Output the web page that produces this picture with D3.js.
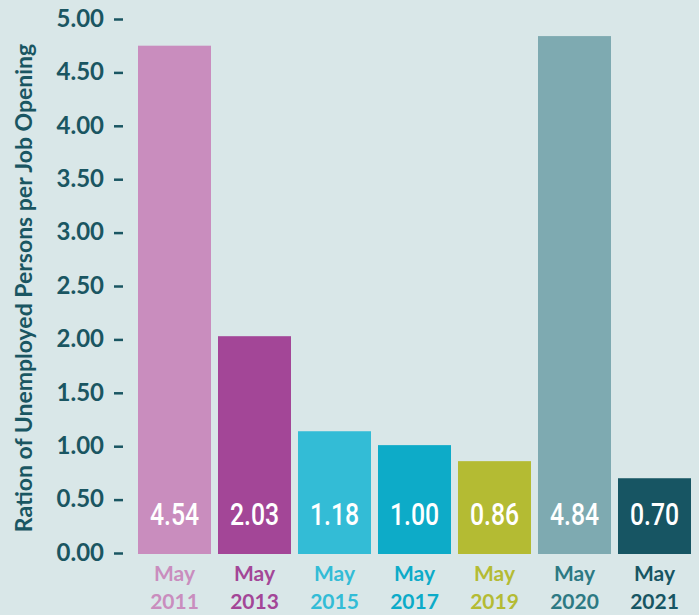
<!DOCTYPE html>
<html>
<head>
<meta charset="utf-8">
<script src="https://cdn.jsdelivr.net/npm/d3@7"></script>
<style>
  body { margin: 0; background: #d9e7e8; }
  svg { display: block; }
</style>
</head>
<body>
<div id="container"></div>
<script>
/**
 * DATA
 * */
const months = ["May", "May", "May", "May", "May", "May", "May"];
const years = ["2011", "2013", "2015", "2017", "2019", "2020", "2021"];
// bar heights as drawn in the picture
const values = [4.75, 2.03, 1.14, 1.01, 0.86, 4.84, 0.70];
// numbers printed on the bars
const valueLabels = ["4.54", "2.03", "1.18", "1.00", "0.86", "4.84", "0.70"];
const barColors = ["#c98dbe", "#a34697", "#33bcd6", "#0dabc8", "#b4bb33", "#7eaab1", "#175563"];
const labelColors = ["#c98dbe", "#a34697", "#33bcd6", "#0dabc8", "#b4bb33", "#2d7983", "#175563"];
const yTicks = [0, 0.5, 1, 1.5, 2, 2.5, 3, 3.5, 4, 4.5, 5];
const yTitle = "Ration of Unemployed Persons per Job Opening";

/**
 * CONSTANTS
 * */
const width = 699,
  height = 615;
const ink = "#1a5662";

const svg = d3.select("#container")
  .append("svg")
  .attr("width", width)
  .attr("height", height);

const x = d3.scaleBand()
  .domain(years)
  .range([138, 691])
  .paddingInner(0.0875)
  .paddingOuter(0);

const y = d3.scaleLinear()
  .domain([0, 5])
  .range([553, 19]);

// y axis
const yAxis = svg.append("g")
  .attr("class", "y-axis")
  .attr("transform", "translate(123,0)")
  .call(d3.axisLeft(y).tickValues(yTicks).tickFormat(d3.format(".2f")).tickSize(9).tickPadding(10));

yAxis.select(".domain").remove();
yAxis.selectAll(".tick line")
  .attr("stroke", ink)
  .attr("stroke-width", 2.5);
yAxis.selectAll(".tick text")
  .attr("fill", ink)
  .attr("dy", "0.3em")
  .style("font-family", "Lato, sans-serif")
  .style("font-weight", "700")
  .style("font-size", "24px");

svg.append("text")
  .attr("transform", `translate(32,${(y(0) + y(5)) / 2 + 2}) rotate(-90)`)
  .attr("text-anchor", "middle")
  .attr("fill", ink)
  .style("font-family", "Lato, sans-serif")
  .style("font-weight", "700")
  .style("font-size", "23px")
  .text(yTitle);

// bars
const idx = d3.range(years.length);

svg.selectAll("rect.bar")
  .data(idx)
  .join("rect")
  .attr("class", "bar")
  .attr("x", i => x(years[i]))
  .attr("y", i => y(values[i]))
  .attr("width", x.bandwidth())
  .attr("height", i => y(0) - y(values[i]) + 1)
  .attr("fill", i => barColors[i]);

// condensed look: squeeze Roboto horizontally
svg.selectAll("text.val")
  .data(idx)
  .join("text")
  .attr("class", "val")
  .attr("transform", i => `translate(${x(years[i]) + x.bandwidth() / 2},${y(0) - 28}) scale(0.8,1)`)
  .attr("text-anchor", "middle")
  .attr("fill", "#ffffff")
  .style("font-family", "Roboto, sans-serif")
  .style("font-weight", "500")
  .style("font-size", "31px")
  .text(i => valueLabels[i]);

// category labels
const cats = svg.selectAll("text.cat")
  .data(idx)
  .join("text")
  .attr("class", "cat")
  .attr("text-anchor", "middle")
  .attr("fill", i => labelColors[i])
  .style("font-family", "Lato, sans-serif")
  .style("font-weight", "700")
  .style("font-size", "21px");

cats.append("tspan")
  .attr("x", i => x(years[i]) + x.bandwidth() / 2)
  .attr("y", y(0) + 28)
  .text(i => months[i]);

cats.append("tspan")
  .attr("x", i => x(years[i]) + x.bandwidth() / 2)
  .attr("y", y(0) + 56)
  .text(i => years[i]);
</script>
</body>
</html>
